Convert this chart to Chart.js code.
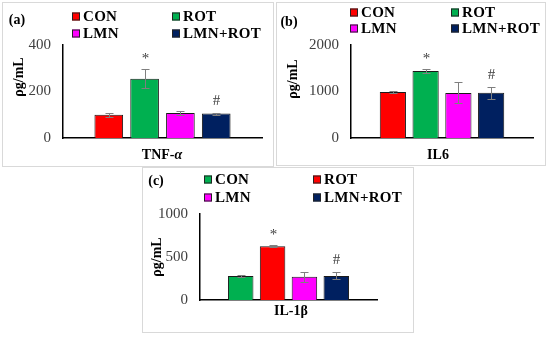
<!DOCTYPE html>
<html>
<head>
<meta charset="utf-8">
<script src="https://cdn.jsdelivr.net/npm/chart.js@4.4.1/dist/chart.umd.min.js"></script>
<style>
  body { margin: 0; width: 550px; height: 338px; background: #fff; position: relative; overflow: hidden;
         font-family: "Liberation Serif", "Times New Roman", serif; }
  .panel { position: absolute; border: 1px solid #d9d9d9; background: #fff; }
  .panel canvas { position: absolute; left: 0; top: 0; }
  .txt { position: absolute; white-space: nowrap; color: #000; font-weight: bold; line-height: 1; }
  .c { transform: translate(-50%, -50%); }
  .rot { transform: translate(-50%, -50%) rotate(-90deg); }
  .lg { position: absolute; font-weight: bold; font-size: 15px; line-height: 1; white-space: nowrap;
        transform: translateY(-50%); display: flex; align-items: center; letter-spacing: 0.3px; }
  .lg i { display: inline-block; width: 6px; height: 6px; border: 1px solid #222; margin-right: 3px; }
</style>
</head>
<body>
<div class="panel" style="left:2px;top:2px;width:270px;height:163px"><canvas id="chartA" width="270" height="163"></canvas></div>
<div class="panel" style="left:276px;top:2px;width:268px;height:162px"><canvas id="chartB" width="268" height="162"></canvas></div>
<div class="panel" style="left:142px;top:167px;width:270px;height:164px"><canvas id="chartC" width="270" height="164"></canvas></div>

<div class="txt c" style="left:17px;top:20px;font-size:14px">(a)</div>
<div class="txt c" style="left:289px;top:22px;font-size:14px">(b)</div>
<div class="txt c" style="left:156px;top:181px;font-size:14px">(c)</div>

<div class="txt rot" style="left:19px;top:77px;font-size:14px">ρg/mL</div>
<div class="txt rot" style="left:293px;top:79px;font-size:14px">ρg/mL</div>
<div class="txt rot" style="left:157px;top:257px;font-size:14px">ρg/mL</div>

<div class="txt c" style="left:162px;top:155px;font-size:14px">TNF-<i>α</i></div>
<div class="txt c" style="left:438px;top:155px;font-size:14px">IL6</div>
<div class="txt c" style="left:291px;top:311px;font-size:14px">IL-1β</div>

<script>
// grupos e valores
const groups = ['CON', 'ROT', 'LMN', 'LMN+ROT'];
const marks = ['', '*', '', '#'];

const tnfValues = [100, 255, 107, 105];
const tnfErrors = [8, 40, 8, 4];

const il6Values = [990, 1440, 970, 975];
const il6Errors = [25, 50, 225, 130];

const il1bValues = [280, 625, 270, 280];
const il1bErrors = [10, 10, 58, 40];

const colorsAB = ['#FF0000', '#00B050', '#FF00FF', '#002060'];
const colorsC = ['#00B050', '#FF0000', '#FF00FF', '#002060'];

// barras de erro + marcadores de significância
const errorBarPlugin = {
  id: 'errorBars',
  afterDatasetsDraw(chart) {
    const ctx = chart.ctx;
    const y = chart.scales.y;
    ctx.save();
    chart.data.datasets.forEach((ds, i) => {
      const bar = chart.getDatasetMeta(i).data[0];
      const v = ds.data[0], e = ds.err;
      const top = Math.round(y.getPixelForValue(v + e)) + 0.5;
      const bot = Math.round(y.getPixelForValue(v - e)) + 0.5;
      const x = Math.round(bar.x) + 0.5;
      ctx.strokeStyle = '#7f7f7f';
      ctx.lineWidth = 1;
      ctx.beginPath();
      ctx.moveTo(x, top); ctx.lineTo(x, bot);
      ctx.moveTo(x - 4, top); ctx.lineTo(x + 4, top);
      ctx.moveTo(x - 4, bot); ctx.lineTo(x + 4, bot);
      ctx.stroke();
      if (ds.mark) {
        ctx.fillStyle = '#404040';
        ctx.font = '15px "Liberation Serif"';
        ctx.textAlign = 'center';
        ctx.textBaseline = 'middle';
        ctx.fillText(ds.mark, x, top - 12 + (ds.mark === '*' ? 2 : 0));
      }
    });
    ctx.restore();
  }
};

function buildLegend(colors, colA, colB, row1, row2) {
  const pos = [[colA, row1], [colB, row1], [colA, row2], [colB, row2]];
  groups.forEach((g, i) => {
    const d = document.createElement('div');
    d.className = 'lg';
    d.style.left = pos[i][0] + 'px';
    d.style.top = pos[i][1] + 'px';
    d.innerHTML = '<i style="background:' + colors[i] + '"></i>' + g;
    document.body.appendChild(d);
  });
}

function makeChart(id, label, values, errors, colors, yMax, step, pad, yWidth) {
  const ctx = document.getElementById(id).getContext('2d');
  return new Chart(ctx, {
    type: 'bar',
    data: {
      labels: [label],
      datasets: groups.map((g, i) => ({
        label: g,
        data: [values[i]],
        err: errors[i],
        mark: marks[i],
        backgroundColor: colors[i],
        borderColor: '#1a1a1a',
        borderWidth: 1,
        categoryPercentage: 0.72,
        barPercentage: 0.8
      }))
    },
    options: {
      responsive: false,
      animation: false,
      devicePixelRatio: 1,
      layout: { padding: pad },
      plugins: { legend: { display: false }, tooltip: { enabled: false } },
      scales: {
        x: {
          ticks: { display: false },
          grid: { display: false, drawTicks: false },
          border: { display: true, color: '#000', width: 1.5 },
          afterFit: s => { s.height = 0; }
        },
        y: {
          min: 0, max: yMax,
          ticks: { stepSize: step, padding: 12, color: '#404040',
                   font: { family: 'Liberation Serif', size: 15 },
                   callback: v => String(v) },
          grid: { display: false, drawTicks: false },
          border: { display: true, color: '#000', width: 1.5 },
          afterFit: s => { s.width = yWidth; }
        }
      }
    },
    plugins: [errorBarPlugin]
  });
}

document.addEventListener('DOMContentLoaded', function() {
  makeChart('chartA', 'TNF-α', tnfValues, tnfErrors, colorsAB, 400, 200,
            { left: 0, top: 42, right: 11, bottom: 28 }, 60);
  makeChart('chartB', 'IL6', il6Values, il6Errors, colorsAB, 2000, 1000,
            { left: 0, top: 42, right: 12, bottom: 27 }, 74);
  makeChart('chartC', 'IL-1β', il1bValues, il1bErrors, colorsC, 1000, 500,
            { left: 0, top: 46, right: 36, bottom: 32 }, 57);

  buildLegend(colorsAB, 72, 172, 16, 33);
  buildLegend(colorsAB, 350, 451, 12, 28);
  buildLegend(colorsC, 204, 313, 179, 197);
});
</script>
</body>
</html>
